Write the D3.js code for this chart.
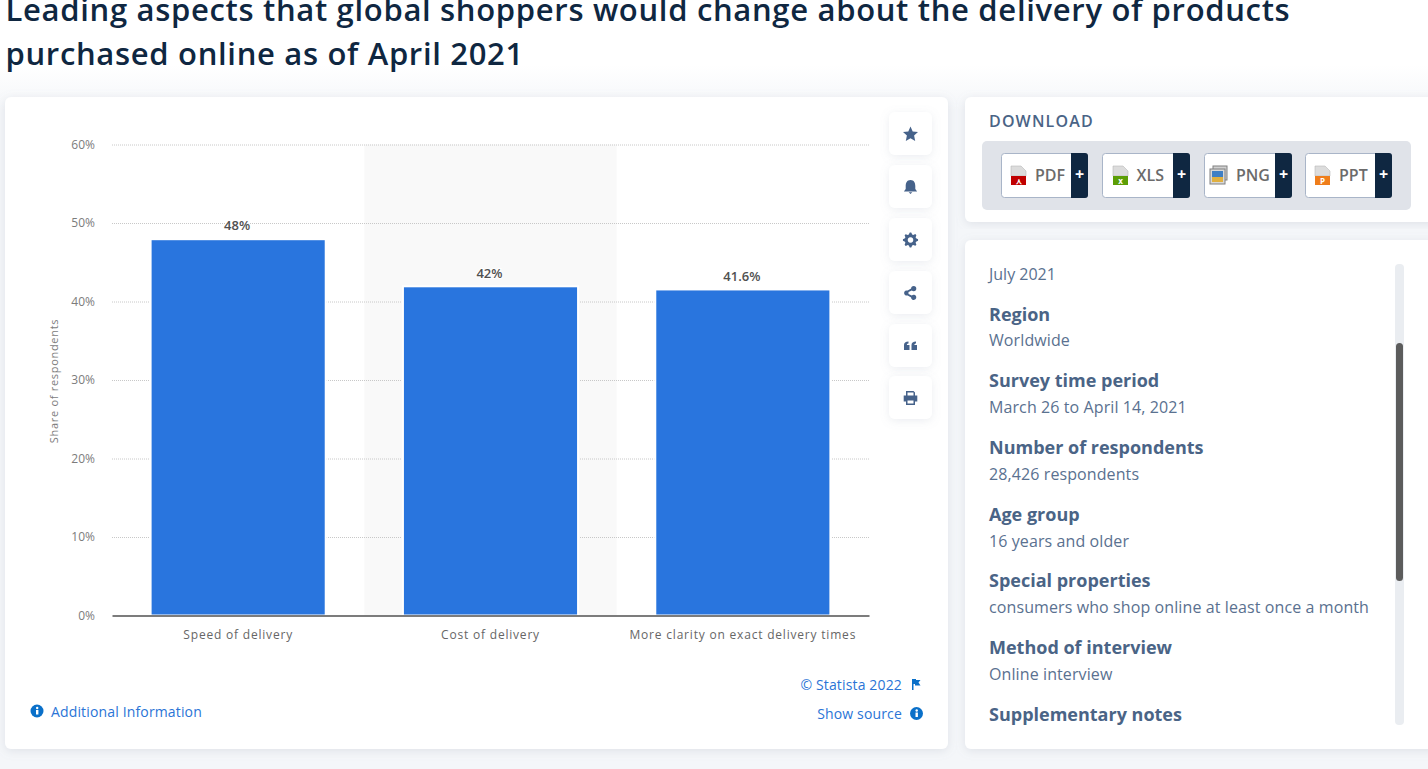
<!DOCTYPE html>
<html>
<head>
<meta charset="utf-8">
<script src="https://cdnjs.cloudflare.com/ajax/libs/d3/7.8.5/d3.min.js"></script>
<style>
  html, body { margin: 0; padding: 0; background: #f4f6f9; overflow: hidden; }
  text { font-family: "Open Sans", "Noto Sans", sans-serif; }
</style>
</head>
<body>
<div id="wrapper"></div>
<script>
const categories = ["Speed of delivery", "Cost of delivery", "More clarity on exact delivery times"];
const shares = [48, 42, 41.6];
const shareLabels = ["48%", "42%", "41.6%"];
const yTicks = [0, 10, 20, 30, 40, 50, 60];
const titleLines = ["Leading aspects that global shoppers would change about the delivery of products", "purchased online as of April 2021"];
const downloads = ["PDF", "XLS", "PNG", "PPT"];
const downloadColors = ["#c00000", "#5c9e06", "#3f7fc4", "#ef7d1a"];
const infoHeads = ["Region", "Survey time period", "Number of respondents", "Age group", "Special properties", "Method of interview", "Supplementary notes"];
const infoValues = ["Worldwide", "March 26 to April 14, 2021", "28,426 respondents", "16 years and older", "consumers who shop online at least once a month", "Online interview", ""];

var margin = {top: 144.5, left: 112, right: 869, bottom: 615.5};

var svg = d3.select("#wrapper")
  .append("svg")
    .attr("width", 1428)
    .attr("height", 769)
    .style("display", "block");

/* soft card shadow */
var defs = svg.append("defs");
var blur = defs.append("filter").attr("id", "shadow")
  .attr("x", "-5%").attr("y", "-5%").attr("width", "110%").attr("height", "110%");
blur.append("feDropShadow").attr("dx", 0).attr("dy", 2).attr("stdDeviation", 5)
  .attr("flood-color", "#8a94a6").attr("flood-opacity", 0.2);
/* toolbar buttons are small, they need a wider filter region */
var blurSmall = defs.append("filter").attr("id", "shadowSmall")
  .attr("x", "-50%").attr("y", "-50%").attr("width", "200%").attr("height", "200%");
blurSmall.append("feDropShadow").attr("dx", 0).attr("dy", 2).attr("stdDeviation", 5)
  .attr("flood-color", "#8a94a6").attr("flood-opacity", 0.16);

svg.append("rect").attr("width", 1428).attr("height", 70).attr("fill", "#ffffff");
var fade = defs.append("linearGradient").attr("id", "fade").attr("x1", 0).attr("x2", 0).attr("y1", 0).attr("y2", 1);
fade.append("stop").attr("offset", 0).attr("stop-color", "#ffffff");
fade.append("stop").attr("offset", 1).attr("stop-color", "#f4f6f9");
svg.append("rect").attr("y", 65).attr("width", 1428).attr("height", 45).attr("fill", "url(#fade)");

svg.selectAll(".title")
  .data(titleLines)
  .enter()
  .append("text")
    .attr("class", "title")
    .attr("x", 5.5)
    .attr("y", (d, i) => 21 + i * 44)
    .attr("font-size", 31)
    .attr("font-weight", 600)
    .attr("letter-spacing", 0.68)
    .attr("fill", "#0f2741")
    .text(d => d);

/* cards */
function card(x, y, w, h) {
  svg.append("rect").attr("x", x).attr("y", y).attr("width", w).attr("height", h)
    .attr("rx", 6).attr("fill", "#ffffff").attr("filter", "url(#shadow)");
}
card(5, 97, 943, 652);
card(965, 97, 475, 125);
card(965, 240, 475, 509);

/* chart */
var x = d3.scaleBand()
  .range([margin.left, margin.right])
  .domain(categories)
  .paddingInner(0.306)
  .paddingOuter(0.153);

var y = d3.scaleLinear()
  .domain([0, 60])
  .range([margin.bottom, margin.top]);

/* alternate band */
svg.append("rect")
  .attr("x", margin.left + x.step())
  .attr("y", y(60))
  .attr("width", x.step())
  .attr("height", y(0) - y(60))
  .attr("fill", "#f9f9f9");

var yAxis = svg.append("g")
  .attr("transform", "translate(" + margin.left + ",0)")
  .call(d3.axisLeft(y).tickValues(yTicks).tickFormat(d => d + "%").tickSize(0).tickPadding(17));
yAxis.select(".domain").remove();
yAxis.selectAll("text")
  .attr("font-family", '"Open Sans", sans-serif')
  .attr("font-size", 12)
  .attr("fill", "#7c7c7c");
yAxis.selectAll(".tick").append("line")
  .filter(d => d !== 0)
  .attr("x2", margin.right - margin.left)
  .attr("stroke", "#c8c8c8")
  .attr("stroke-dasharray", "1,1");

svg.append("text")
  .attr("transform", "translate(58,381)rotate(-90)")
  .attr("text-anchor", "middle")
  .attr("font-size", 11)
  .attr("letter-spacing", 0.7)
  .attr("fill", "#7c7c7c")
  .text("Share of respondents");

/* white bar border, as in the source */
svg.selectAll(".bar")
  .data(shares)
  .enter()
  .append("rect")
    .attr("class", "bar")
    .attr("x", (d, i) => x(categories[i]))
    .attr("y", d => y(d) + 0.5)
    .attr("width", x.bandwidth())
    .attr("height", d => y(0) - y(d) - 0.5)
    .attr("fill", "#2975de")
    .attr("stroke", "#ffffff")
    .attr("stroke-width", 2);

svg.selectAll(".barLabel")
  .data(shares)
  .enter()
  .append("text")
    .attr("class", "barLabel")
    .attr("x", (d, i) => x(categories[i]) + x.bandwidth() / 2 - 1)
    .attr("y", d => y(d) - 8.3)
    .attr("text-anchor", "middle")
    .attr("font-size", 13)
    .attr("font-weight", 600)
    .attr("fill", "#505050")
    .attr("stroke", "#ffffff")
    .attr("stroke-width", 2)
    .attr("paint-order", "stroke")
    .text((d, i) => shareLabels[i]);

var xAxis = svg.append("g")
  .attr("transform", "translate(0," + margin.bottom + ")")
  .call(d3.axisBottom(x).tickSize(0).tickPadding(15));
xAxis.select(".domain").attr("stroke", "#7c7c7c").attr("stroke-width", 2);
xAxis.selectAll("text")
  .attr("font-family", '"Open Sans", sans-serif')
  .attr("font-size", 12)
  .attr("letter-spacing", 0.8)
  .attr("fill", "#666666");

/* blue link texts */
function infoIcon(cx, cy) {
  svg.append("circle").attr("cx", cx).attr("cy", cy).attr("r", 6.5).attr("fill", "#0a70c9");
  svg.append("rect").attr("x", cx - 1).attr("y", cy - 1).attr("width", 2.4).attr("height", 4.5).attr("fill", "#fff");
  svg.append("circle").attr("cx", cx + 0.2).attr("cy", cy - 3).attr("r", 1.2).attr("fill", "#fff");
}
function link(tx, ty, anchor, label) {
  svg.append("text").attr("x", tx).attr("y", ty).attr("text-anchor", anchor)
    .attr("font-size", 14).attr("letter-spacing", 0.15).attr("fill", "#2a74d6").text(label);
}
infoIcon(37, 711);
link(51, 717, "start", "Additional Information");
link(902, 690, "end", "© Statista 2022");
link(902, 719, "end", "Show source");
infoIcon(916.5, 713.5);
svg.append("path")
  .attr("transform", "translate(912,679)")
  .attr("d", "M0,0H4V1H8.5L6.5,3.5L8.5,6.5H3V5H1.5V11H0Z")
  .attr("fill", "#0a70c9");

/* gear outline for the settings button */
var gearPoints = d3.range(32).map(function(i) {
  return [i * Math.PI / 16 - 0.1, [7.6, 7.6, 5.8, 5.8][i % 4]];
});
var gearPath = d3.lineRadial().curve(d3.curveLinearClosed)(gearPoints) + "M0,-2.8A2.8,2.8 0 1 0 0.01,-2.8Z";

/* side toolbar */
var toolY = [112, 165, 218, 271, 324, 376];
var toolIcons = [
  "M0,-7.5L2.2,-2.6L7.5,-2L3.6,1.6L4.7,7L0,4.3L-4.7,7L-3.6,1.6L-7.5,-2L-2.2,-2.6Z",
  "M0,-7C3.6,-7 4.8,-4 4.8,-1V2L6.6,4.4H-6.6L-4.8,2V-1C-4.8,-4 -3.6,-7 0,-7ZM-1.8,5.2H1.8L0,7Z",
  gearPath,
  "M3.2,-7A2.6,2.6 0 1 1 3.2,-1.8A2.6,2.6 0 0 1 1.3,-2.6L-2,-0.9V0.9L1.3,2.6A2.6,2.6 0 1 1 0.6,4.4L-2.8,2.4A2.6,2.6 0 1 1 -2.8,-2.4L0.6,-4.4A2.6,2.6 0 0 1 3.2,-7Z",
  "M-6.5,4V-1C-6.5,-3 -5,-4.5 -2,-4.5V-2.5C-3,-2.5 -3.6,-2 -3.6,-1H-1V4ZM1,4V-1C1,-3 2.5,-4.5 5.5,-4.5V-2.5C4.5,-2.5 3.9,-2 3.9,-1H6.5V4Z",
  "M-4.5,-7H3L4.5,-5.5V-2.5H6.8V3.5H4.5V7H-4.5V3.5H-6.8V-2.5H-4.5ZM-3,-5.5V-2.5H3V-5.5ZM-3,2.5V5.5H3V2.5Z"
];
toolY.forEach(function(ty, i) {
  svg.append("rect").attr("x", 889).attr("y", ty).attr("width", 43).attr("height", 43)
    .attr("rx", 6).attr("fill", "#ffffff").attr("filter", "url(#shadowSmall)");
  svg.append("path").attr("transform", "translate(910.5," + (ty + 22) + ")")
    .attr("d", toolIcons[i]).attr("fill", "#46628a").attr("fill-rule", "evenodd");
});

/* download panel */
svg.append("text").attr("x", 989).attr("y", 127).attr("font-size", 16).attr("font-weight", 600)
  .attr("letter-spacing", 1.15).attr("fill", "#4a6486").text("DOWNLOAD");
svg.append("rect").attr("x", 982).attr("y", 141).attr("width", 429).attr("height", 69).attr("rx", 5).attr("fill", "#e0e3e9");

var btnX = [1001, 1102, 1204, 1305];
var btnW = [86, 87, 87, 86];
var btnDark = [1071, 1173, 1275, 1375];
var iconX = [1011, 1113, 1210, 1315];
var labelX = [1035, 1136.5, 1236, 1339];
downloads.forEach(function(label, i) {
  svg.append("rect").attr("x", btnX[i] + 0.5).attr("y", 153.5).attr("width", btnW[i]).attr("height", 44)
    .attr("rx", 3).attr("fill", "#ffffff").attr("stroke", "#a9b5c8");
  svg.append("path")
    .attr("d", "M" + btnDark[i] + ",153H" + (btnX[i] + btnW[i] - 2) + "a3,3 0 0 1 3,3V195a3,3 0 0 1 -3,3H" + btnDark[i] + "Z")
    .attr("fill", "#0f2741");
  svg.append("text").attr("x", (btnDark[i] + btnX[i] + btnW[i] + 1) / 2).attr("y", 180).attr("text-anchor", "middle")
    .attr("font-size", 16).attr("font-weight", 700).attr("fill", "#fff").text("+");
  svg.append("text").attr("x", labelX[i]).attr("y", 181).attr("font-size", 16).attr("font-weight", 600)
    .attr("fill", "#6b6b6b").text(label);
  if (label === "PNG") {
    svg.append("rect").attr("x", iconX[i] + 3).attr("y", 166).attr("width", 14).attr("height", 14).attr("fill", "#d0d0d0").attr("stroke", "#808080");
    svg.append("rect").attr("x", iconX[i]).attr("y", 169).attr("width", 15).attr("height", 15).attr("fill", "#d8d8d8").attr("stroke", "#808080");
    svg.append("rect").attr("x", iconX[i] + 2).attr("y", 171).attr("width", 11).attr("height", 6).attr("fill", "#3f7fc4");
    svg.append("rect").attr("x", iconX[i] + 2).attr("y", 177).attr("width", 11).attr("height", 5).attr("fill", "#e0b040");
  } else {
    svg.append("path").attr("d", "M" + iconX[i] + ",166H" + (iconX[i] + 10) + "l5,5V176H" + iconX[i] + "Z").attr("fill", "#dcdcdc").attr("stroke", "#b8b8b8").attr("stroke-width", 0.6);
    svg.append("rect").attr("x", iconX[i]).attr("y", 176).attr("width", 15).attr("height", 9).attr("fill", downloadColors[i]);
    svg.append("text").attr("x", iconX[i] + 7.5).attr("y", 184).attr("text-anchor", "middle").attr("font-size", 8).attr("font-weight", 700)
      .attr("fill", "#fff").text(label === "XLS" ? "x" : label === "PPT" ? "P" : "⋏");
  }
});

/* details panel */
svg.append("text").attr("x", 989).attr("y", 280).attr("font-size", 16).attr("fill", "#5a7190").text("July 2021");
var headY = [321, 387, 454, 521, 587, 654, 721];
var valueY = [345.5, 412.5, 479.5, 546.5, 612.5, 679.5, 0];
infoHeads.forEach(function(h, i) {
  svg.append("text").attr("x", 989).attr("y", headY[i]).attr("font-size", 18).attr("font-weight", 700)
    .attr("fill", "#4a6486").text(h);
  if (infoValues[i]) {
    svg.append("text").attr("x", 989).attr("y", valueY[i]).attr("font-size", 16).attr("letter-spacing", 0.1)
      .attr("fill", "#5a7190").text(infoValues[i]);
  }
});
svg.append("rect").attr("x", 1395).attr("y", 264).attr("width", 9).attr("height", 461).attr("rx", 4).attr("fill", "#eaedf1");
svg.append("rect").attr("x", 1396).attr("y", 343).attr("width", 7).attr("height", 238).attr("rx", 3.5).attr("fill", "#5c5c5c");
</script>
</body>
</html>
